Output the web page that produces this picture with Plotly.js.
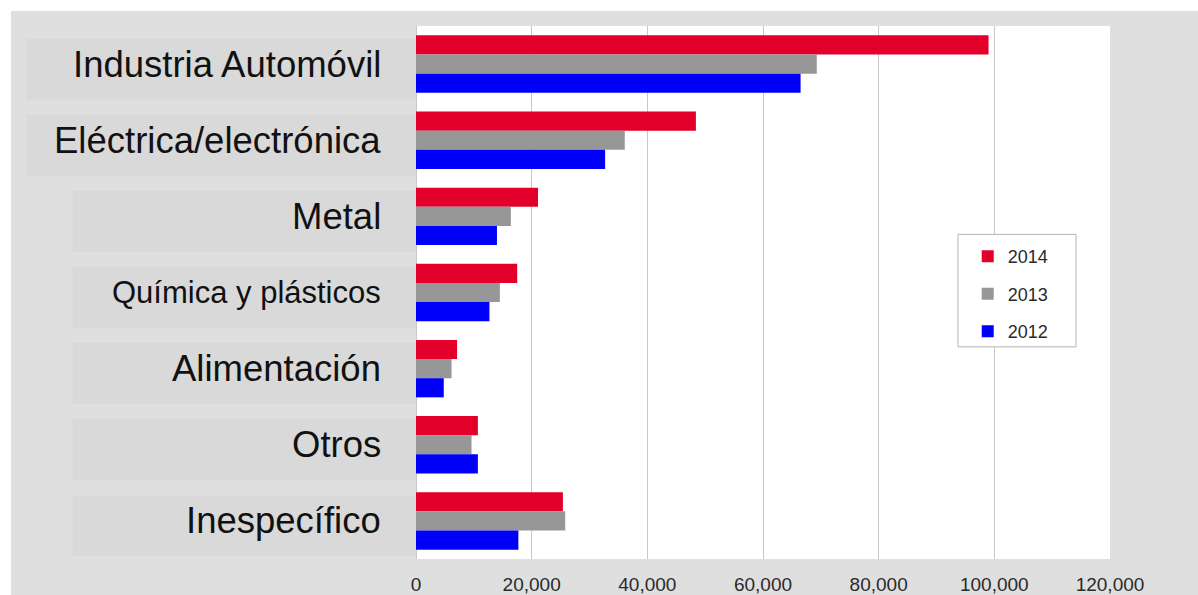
<!DOCTYPE html>
<html>
<head>
<meta charset="utf-8">
<script src="https://cdn.plot.ly/plotly-3.0.1.min.js"></script>
<style>
  html, body { margin: 0; padding: 0; background: #ffffff; }
  #chart { width: 1198px; height: 595px; }
</style>
</head>
<body>
<div id="chart"></div>
<script>
// ---- data ----
const categories = ['Industria Automóvil', 'Eléctrica/electrónica', 'Metal', 'Química y plásticos', 'Alimentación', 'Otros', 'Inespecífico'];
const years = ['2014', '2013', '2012'];
const values2014 = [99000, 48400, 21100, 17500, 7100, 10700, 25400];
const values2013 = [69300, 36100, 16400, 14500, 6150, 9600, 25800];
const values2012 = [66500, 32700, 14000, 12700, 4800, 10700, 17700];
const xTickVals = [0, 20000, 40000, 60000, 80000, 100000, 120000];

// ---- styles ----
const colors = { '2014': '#e2002b', '2013': '#979797', '2012': '#0000fa' };
const FONT = 'Liberation Sans, Arial, Helvetica, sans-serif';
const seriesValues = { '2014': values2014, '2013': values2013, '2012': values2012 };

const traces = years.map(y => ({
  type: 'bar',
  orientation: 'h',
  name: y,
  legendgroup: y,
  x: seriesValues[y],
  y: categories,
  marker: { color: colors[y], line: { width: 0 } },
  hoverinfo: 'x+y+name'
}));

// label boxes & labels
const boxLeft = [-0.562, -0.562, -0.495, -0.495, -0.495, -0.495, -0.495];
const labelSize = [36.5, 36.5, 36.5, 31, 36.5, 36.5, 36.5];

const shapes = [
  // outer grey background
  { type: 'rect', xref: 'paper', yref: 'paper', x0: -0.5836, x1: 1.2, y0: -0.1, y1: 1.028,
    fillcolor: '#dfdfdf', line: { width: 0 }, layer: 'below' },
  // white plot area
  { type: 'rect', xref: 'paper', yref: 'paper', x0: 0, x1: 1, y0: 0, y1: 1,
    fillcolor: '#ffffff', line: { width: 0 }, layer: 'below' }
];
categories.forEach((c, i) => {
  shapes.push({ type: 'rect', xref: 'paper', yref: 'y', x0: boxLeft[i], x1: 0,
    y0: i - 0.335, y1: i + 0.465, fillcolor: '#d9d9d9', line: { width: 0 }, layer: 'below' });
});
// legend box
shapes.push({ type: 'rect', xref: 'paper', yref: 'paper', x0: 0.781, x1: 0.951, y0: 0.398, y1: 0.609,
  fillcolor: '#ffffff', line: { color: '#b4b4b4', width: 1 }, layer: 'above' });

const annotations = categories.map((c, i) => ({
  xref: 'paper', yref: 'y', x: -0.0476, y: c, xanchor: 'right', yanchor: 'middle',
  text: c, showarrow: false, font: { family: FONT, size: labelSize[i], color: '#111111' }
}));

const layout = {
  width: 1198, height: 595,
  margin: { l: 416, r: 88, t: 26, b: 36, pad: 0 },
  paper_bgcolor: '#ffffff',
  plot_bgcolor: '#ffffff',
  barmode: 'group',
  bargap: 0.246,
  bargroupgap: 0,
  font: { family: FONT, color: '#333333' },
  xaxis: {
    range: [0, 120000],
    tickvals: xTickVals,
    tickformat: ',d',
    showgrid: true, gridcolor: '#c8c8c8', gridwidth: 1,
    zeroline: true, zerolinecolor: '#c8c8c8', zerolinewidth: 1,
    showline: false,
    ticks: 'outside', ticklen: 8, tickcolor: 'rgba(0,0,0,0)',
    tickfont: { family: FONT, size: 19, color: '#2a2a2a' },
    fixedrange: true
  },
  yaxis: {
    type: 'category',
    autorange: 'reversed',
    showticklabels: false,
    showgrid: false, zeroline: false, showline: false, ticks: '',
    fixedrange: true
  },
  showlegend: true,
  legend: {
    x: 0.795, y: 0.602, xanchor: 'left', yanchor: 'top',
    bgcolor: 'rgba(0,0,0,0)', borderwidth: 0,
    traceorder: 'grouped', tracegroupgap: 11,
    font: { family: FONT, size: 18, color: '#2a2a2a' }
  },
  shapes: shapes,
  annotations: annotations
};

Plotly.newPlot('chart', traces, layout, { displayModeBar: false, staticPlot: true });
</script>
</body>
</html>
